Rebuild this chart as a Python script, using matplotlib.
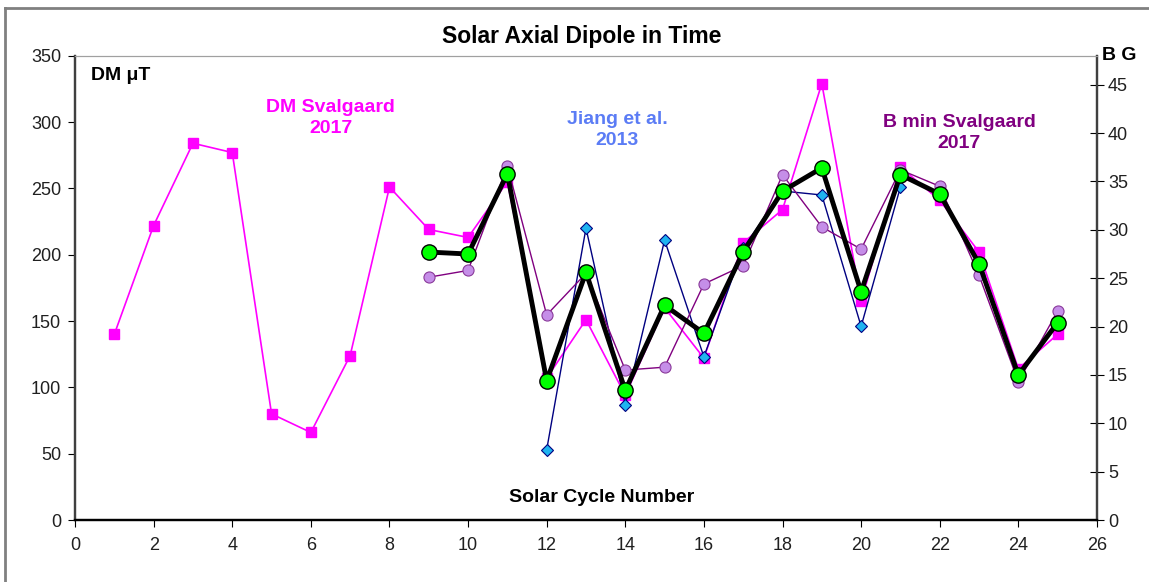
import numpy as np
import matplotlib.pyplot as plt
from matplotlib.lines import Line2D

plt.rcParams['font.family'] = ['Liberation Sans', 'DejaVu Sans']

# DM Svalgaard 2017 (left axis, uT)
dm_cycles = list(range(1, 26))
dm_values = [140, 222, 284, 277, 80, 66, 124, 251, 219, 213, 255, 107, 151,
             94, 160, 122, 209, 234, 329, 165, 266, 241, 202, 114, 140]

# Jiang et al. 2013 (left axis, uT)
jiang_cycles = list(range(12, 22))
jiang_values = [53, 220, 87, 211, 123, 205, 248, 245, 146, 251]

# B min Svalgaard 2017 (right axis, G)
bmin_cycles = list(range(9, 26))
bmin_values = [25.1, 25.8, 36.6, 21.2, 25.5, 15.5, 15.8, 24.4, 26.3, 35.7,
               30.3, 28.0, 36.2, 34.5, 25.3, 14.3, 21.6]

# mean (right axis, G)
mean_cycles = list(range(9, 26))
mean_values = [27.7, 27.5, 35.8, 14.4, 25.6, 13.4, 22.2, 19.3, 27.7, 34.0,
               36.4, 23.6, 35.7, 33.7, 26.5, 15.0, 20.4]

fig = plt.figure(figsize=(11.49, 5.82), dpi=100)
ax = fig.add_axes([0.0653, 0.1065, 0.8894, 0.7978])
ax2 = ax.twinx()

ax.plot(dm_cycles, dm_values, color='#ff00ff', lw=1.2, marker='s', ms=7,
        mfc='#ff00ff', mec='#ff00ff', zorder=2)
ax.plot(jiang_cycles, jiang_values, color='#000080', lw=1.0, marker='D', ms=6.5,
        mfc='#1fb4f0', mec='#000080', mew=0.8, zorder=3)
ax2.plot(bmin_cycles, bmin_values, color='#800080', lw=1.0, marker='o', ms=8,
         mfc='#c58ee8', mec='#8a3a9a', mew=0.8, zorder=2)
ax2.plot(mean_cycles, mean_values, color='black', lw=3.5, marker='o', ms=11,
         mfc='#00ff00', mec='black', mew=1.0, zorder=4)

ax.set_xlim(0, 26)
ax.set_ylim(0, 350)
ax2.set_ylim(0, 48)
ax.set_xticks(np.arange(0, 27, 2))
ax.set_yticks(np.arange(0, 351, 50))
ax2.set_yticks(np.arange(0, 46, 5))

ax.tick_params(axis='x', direction='out', length=5, labelsize=13, pad=7,
               labelcolor='#202020')
ax.tick_params(axis='y', direction='out', length=5, labelsize=13, pad=5,
               labelcolor='#202020')
ax2.tick_params(axis='y', direction='inout', length=10, labelsize=13, pad=3,
                labelcolor='#202020')

for a in (ax, ax2):
    a.spines['left'].set_color('#404040')
    a.spines['right'].set_color('#404040')
    a.spines['right'].set_linewidth(1.6)
    a.spines['left'].set_linewidth(1.6)
    a.spines['top'].set_color('#a0a0a0')
    a.spines['bottom'].set_color('black')
    a.spines['bottom'].set_linewidth(1.6)
ax2.set_zorder(ax.get_zorder() + 1)
ax2.patch.set_visible(False)

ax.text(0.4, 335, 'DM \u03bcT', fontsize=14, fontweight='bold', va='center')
ax.text(6.5, 303, 'DM Svalgaard\n2017', fontsize=14, fontweight='bold',
        color='#ff00ff', ha='center', va='center', linespacing=1.3)
ax.text(13.8, 294, 'Jiang et al.\n2013', fontsize=14, fontweight='bold',
        color='#5b7cf5', ha='center', va='center', linespacing=1.3)
ax.text(22.5, 292, 'B min Svalgaard\n2017', fontsize=14, fontweight='bold',
        color='#800080', ha='center', va='center', linespacing=1.3)
ax.text(13.4, 17, 'Solar Cycle Number', fontsize=14, fontweight='bold',
        ha='center', va='center')
ax2.text(1.005, 1.0, 'B G', transform=ax.transAxes, fontsize=14,
         fontweight='bold', ha='left', va='center')

fig.text(0.506, 0.938, 'Solar Axial Dipole in Time', fontsize=16.5,
         fontweight='bold', ha='center', va='center')

# chart-area border (left and top edges)
fig.add_artist(Line2D([5 / 1149, 5 / 1149], [0, 1 - 8 / 582],
                      transform=fig.transFigure, color='#808080', lw=2))
fig.add_artist(Line2D([5 / 1149, 1], [1 - 8 / 582, 1 - 8 / 582],
                      transform=fig.transFigure, color='#808080', lw=2))

plt.savefig('out.png', dpi=100)
